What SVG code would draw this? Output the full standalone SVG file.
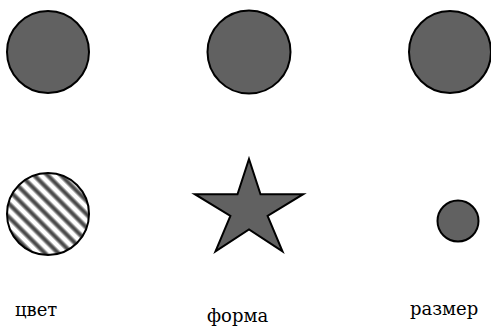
<svg xmlns="http://www.w3.org/2000/svg" width="491" height="329" viewBox="0 0 491 329">
<style>
.shape{fill:#616161;stroke:#000;stroke-width:2}
.lbl{font-family:"DejaVu Serif",serif;font-size:18px;fill:#000}
</style>
<defs>
<linearGradient id="sg" x1="0" y1="0" x2="1" y2="0">
<stop offset="0" stop-color="#fff"/>
<stop offset="0.15" stop-color="#fff"/>
<stop offset="0.4" stop-color="#4a4a4a"/>
<stop offset="0.6" stop-color="#4a4a4a"/>
<stop offset="0.85" stop-color="#fff"/>
<stop offset="1" stop-color="#fff"/>
</linearGradient>
<pattern id="hatch" patternUnits="userSpaceOnUse" width="9.5" height="20" patternTransform="rotate(-45)">
<rect x="0" y="0" width="9.5" height="20" fill="url(#sg)"/>
</pattern>
</defs>
<g id="circle-1"><circle class="shape" cx="48" cy="52" r="41"/></g>
<g id="circle-2"><circle class="shape" cx="249" cy="52" r="41.5"/></g>
<g id="circle-3"><circle class="shape" cx="450" cy="52" r="41"/></g>
<g id="hatched-circle"><circle cx="48" cy="214" r="41" fill="url(#hatch)" stroke="#000" stroke-width="2"/></g>
<g id="star"><polygon class="shape" points="249,159 260.5,194.2 303.2,194.2 267.6,215.8 282.5,251.3 249,229.5 215.5,251.3 230.4,215.8 194.8,194.2 237.5,194.2"/></g>
<g id="small-circle"><circle class="shape" cx="458" cy="221" r="20.5"/></g>
<g id="labels">
<text class="lbl" x="15" y="316">цвет</text>
<text class="lbl" x="207" y="322">форма</text>
<text class="lbl" x="410" y="315">размер</text>
</g>
<g id="connectors"/>
</svg>
